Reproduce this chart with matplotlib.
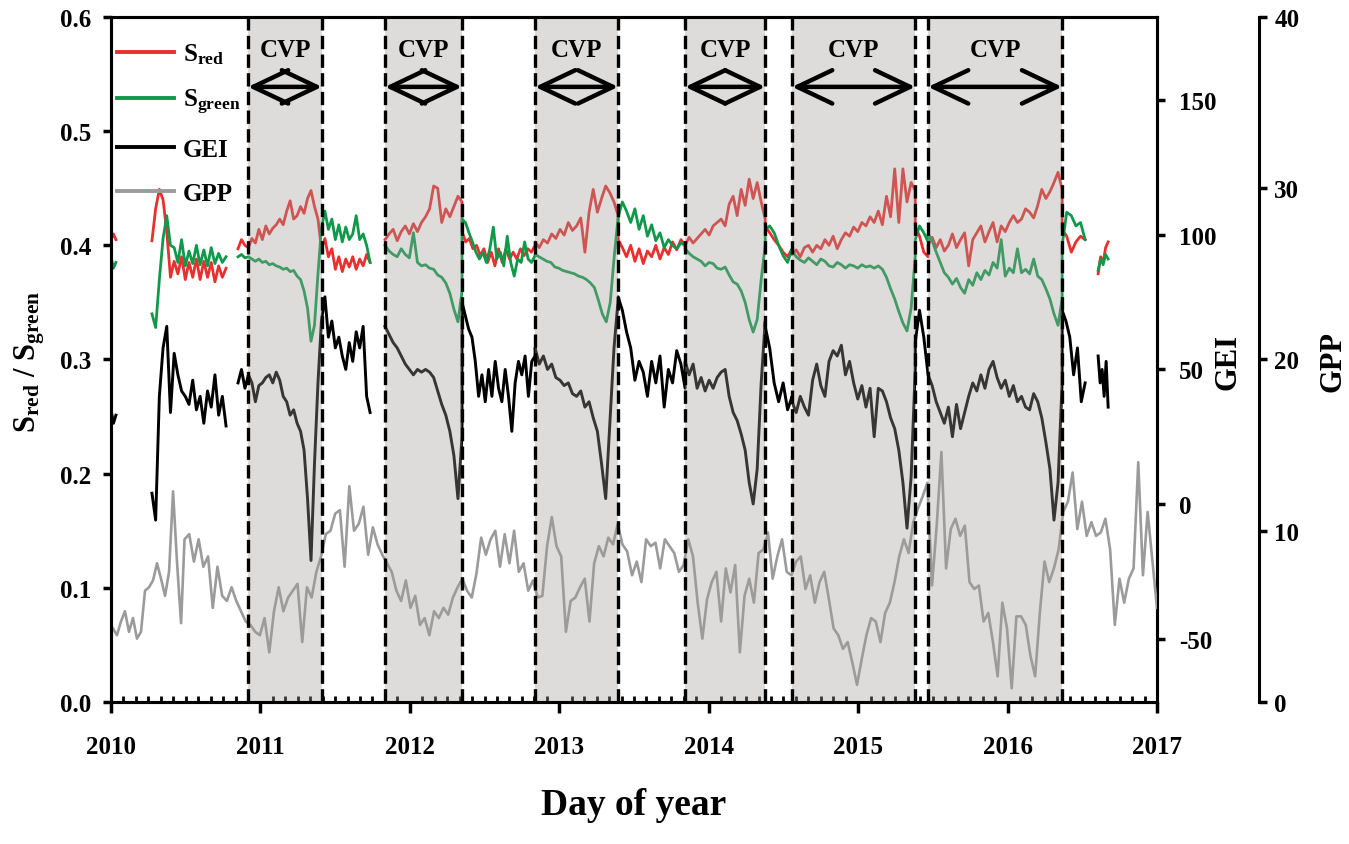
import matplotlib
matplotlib.use('Agg')
import matplotlib.pyplot as plt
import matplotlib.transforms as mtransforms
import numpy as np
from matplotlib.ticker import MultipleLocator, FormatStrFormatter, FixedLocator

plt.rcParams['font.family'] = ['Liberation Serif', 'DejaVu Serif']
plt.rcParams['font.weight'] = 'bold'
plt.rcParams['mathtext.fontset'] = 'custom'
plt.rcParams['mathtext.rm'] = 'Liberation Serif:bold'
plt.rcParams['mathtext.it'] = 'Liberation Serif:bold'
plt.rcParams['mathtext.bf'] = 'Liberation Serif:bold'
plt.rcParams['axes.unicode_minus'] = False

years = [2010, 2011, 2012, 2013, 2014, 2015, 2016, 2017]
cvp_start = [2010.917, 2011.834, 2012.838, 2013.842, 2014.558, 2015.468]
cvp_end = [2011.412, 2012.349, 2013.394, 2014.378, 2015.382, 2016.365]

# each run = list of pieces (first year, last year, values); gaps between runs
s_red = [
    [(2010.000, 2010.033, [0.405, 0.41, 0.405])],
    [(2010.274, 2010.770, [0.404, 0.432, 0.449, 0.44, 0.412, 0.372, 0.386, 0.375, 0.39, 0.37, 0.385,
                           0.372, 0.388, 0.37, 0.386, 0.372, 0.385, 0.368, 0.382, 0.372, 0.38])],
    [(2010.850, 2011.734, [0.397, 0.405, 0.40, 0.398, 0.406, 0.402, 0.414, 0.405, 0.417, 0.41, 0.415,
                           0.418, 0.423, 0.418, 0.43, 0.439, 0.423, 0.426, 0.434, 0.428, 0.441, 0.448,
                           0.434, 0.423, 0.397, 0.406, 0.39, 0.397, 0.379, 0.39, 0.377, 0.388, 0.381,
                           0.39, 0.379, 0.388, 0.382, 0.392, 0.385])],
    [(2011.834, 2012.349, [0.405, 0.41, 0.414, 0.404, 0.412, 0.417, 0.41, 0.419, 0.412, 0.42, 0.425,
                           0.432, 0.452, 0.45, 0.42, 0.432, 0.425, 0.434, 0.443, 0.438]),
     (2012.349, 2012.838, [0.412, 0.403, 0.406, 0.397, 0.40, 0.391, 0.397, 0.385, 0.394, 0.382, 0.397,
                           0.385, 0.397, 0.388, 0.394, 0.388, 0.397, 0.391, 0.397, 0.394, 0.40]),
     (2012.838, 2013.394, [0.403, 0.398, 0.405, 0.402, 0.41, 0.406, 0.414, 0.409, 0.42, 0.413, 0.417,
                           0.424, 0.394, 0.429, 0.449, 0.429, 0.441, 0.452, 0.446, 0.438, 0.426]),
     (2013.394, 2013.842, [0.405, 0.398, 0.39, 0.40, 0.386, 0.397, 0.384, 0.395, 0.39, 0.40, 0.388,
                           0.398, 0.392, 0.403, 0.396, 0.405, 0.40]),
     (2013.842, 2014.378, [0.40, 0.407, 0.402, 0.406, 0.41, 0.414, 0.409, 0.417, 0.42, 0.423, 0.417,
                           0.436, 0.443, 0.426, 0.449, 0.435, 0.458, 0.441, 0.455, 0.438, 0.423]),
     (2014.378, 2014.558, [0.417, 0.411, 0.405, 0.40, 0.394, 0.39, 0.397]),
     (2014.558, 2015.382, [0.392, 0.396, 0.39, 0.398, 0.40, 0.394, 0.40, 0.397, 0.405, 0.40, 0.408,
                           0.397, 0.405, 0.411, 0.408, 0.416, 0.412, 0.42, 0.417, 0.425, 0.42, 0.43,
                           0.418, 0.443, 0.425, 0.467, 0.42, 0.467, 0.438, 0.455, 0.448]),
     (2015.382, 2015.468, [0.417, 0.408, 0.394, 0.39]),
     (2015.468, 2016.365, [0.40, 0.407, 0.398, 0.405, 0.395, 0.40, 0.41, 0.398, 0.405, 0.411, 0.382,
                           0.405, 0.411, 0.417, 0.403, 0.412, 0.42, 0.403, 0.417, 0.412, 0.42, 0.426,
                           0.42, 0.423, 0.432, 0.429, 0.424, 0.435, 0.449, 0.441, 0.447, 0.455, 0.464,
                           0.449]),
     (2016.365, 2016.519, [0.414, 0.408, 0.394, 0.403, 0.408, 0.405])],
    [(2016.606, 2016.673, [0.375, 0.39, 0.385, 0.398, 0.403])],
]

s_green = [
    [(2010.000, 2010.033, [0.39, 0.38, 0.385])],
    [(2010.274, 2010.770, [0.34, 0.328, 0.37, 0.406, 0.426, 0.40, 0.398, 0.385, 0.405, 0.382, 0.395,
                           0.384, 0.40, 0.383, 0.396, 0.382, 0.398, 0.384, 0.393, 0.385, 0.39])],
    [(2010.850, 2011.734, [0.39, 0.392, 0.389, 0.39, 0.388, 0.386, 0.388, 0.385, 0.386, 0.383, 0.384,
                           0.382, 0.381, 0.379, 0.38, 0.377, 0.378, 0.373, 0.37, 0.36, 0.345, 0.316,
                           0.33, 0.375, 0.415, 0.43, 0.414, 0.423, 0.405, 0.418, 0.403, 0.416, 0.405,
                           0.41, 0.426, 0.405, 0.41, 0.40, 0.385])],
    [(2011.834, 2012.349, [0.40, 0.395, 0.392, 0.39, 0.397, 0.392, 0.389, 0.411, 0.385, 0.382, 0.383,
                           0.38, 0.379, 0.374, 0.372, 0.367, 0.358, 0.344, 0.333, 0.36]),
     (2012.349, 2012.838, [0.423, 0.42, 0.411, 0.403, 0.394, 0.388, 0.394, 0.385, 0.397, 0.416, 0.388,
                           0.394, 0.382, 0.408, 0.385, 0.373, 0.388, 0.385, 0.403, 0.388, 0.385, 0.391]),
     (2012.838, 2013.394, [0.392, 0.39, 0.388, 0.386, 0.385, 0.381, 0.38, 0.378, 0.377, 0.376, 0.375,
                           0.373, 0.372, 0.37, 0.367, 0.363, 0.352, 0.34, 0.333, 0.35, 0.39, 0.425]),
     (2013.394, 2013.842, [0.425, 0.438, 0.43, 0.42, 0.432, 0.414, 0.426, 0.408, 0.418, 0.404, 0.411,
                           0.398, 0.405, 0.40, 0.397, 0.402, 0.40]),
     (2013.842, 2014.378, [0.397, 0.393, 0.39, 0.388, 0.386, 0.382, 0.385, 0.384, 0.38, 0.379, 0.381,
                           0.374, 0.368, 0.366, 0.36, 0.35, 0.335, 0.324, 0.335, 0.37, 0.40]),
     (2014.378, 2014.558, [0.414, 0.417, 0.411, 0.40, 0.391, 0.385, 0.397]),
     (2014.558, 2015.382, [0.395, 0.39, 0.387, 0.385, 0.389, 0.386, 0.383, 0.388, 0.386, 0.382, 0.381,
                           0.385, 0.383, 0.38, 0.383, 0.382, 0.38, 0.383, 0.381, 0.382, 0.38, 0.382,
                           0.379, 0.372, 0.362, 0.353, 0.342, 0.332, 0.325, 0.345, 0.39]),
     (2015.382, 2015.468, [0.405, 0.417, 0.411, 0.403]),
     (2015.468, 2016.365, [0.41, 0.404, 0.394, 0.385, 0.376, 0.372, 0.366, 0.371, 0.363, 0.358, 0.37,
                           0.365, 0.376, 0.37, 0.378, 0.374, 0.385, 0.38, 0.405, 0.373, 0.38, 0.376,
                           0.397, 0.376, 0.379, 0.375, 0.388, 0.373, 0.37, 0.362, 0.353, 0.34, 0.33,
                           0.353]),
     (2016.365, 2016.519, [0.40, 0.429, 0.426, 0.417, 0.42, 0.405])],
    [(2016.606, 2016.673, [0.378, 0.388, 0.383, 0.392, 0.388])],
]

gei = [
    [(2010.000, 2010.033, [35, 30, 33])],
    [(2010.274, 2010.770, [4, -6, 40, 58, 66, 34, 56, 48, 42, 40, 37, 46, 35, 40, 30, 42, 36, 48, 33,
                           40, 29])],
    [(2010.850, 2011.734, [45, 50, 43, 48, 45, 38, 44, 45, 47, 48, 45, 49, 46, 40, 38, 33, 35, 30, 27,
                           20, 2, -21, 15, 45, 68, 77, 62, 68, 58, 62, 55, 50, 60, 53, 64, 58, 66,
                           40, 34])],
    [(2011.834, 2012.349, [66, 63, 60, 58, 55, 52, 50, 48, 50, 49, 50, 49, 47, 42, 37, 33, 27, 18, 2,
                           25]),
     (2012.349, 2012.838, [75, 70, 65, 62, 53, 40, 48, 38, 50, 40, 53, 43, 38, 50, 40, 27, 45, 53, 48,
                           55, 40, 53, 55]),
     (2012.838, 2013.394, [58, 52, 55, 50, 52, 47, 46, 44, 45, 41, 40, 42, 36, 38, 32, 27, 15, 2, 30,
                           58, 76]),
     (2013.394, 2013.842, [77, 72, 64, 58, 46, 53, 49, 40, 53, 45, 55, 36, 50, 45, 57, 52, 43]),
     (2013.842, 2014.378, [53, 48, 52, 43, 47, 42, 46, 43, 47, 49, 50, 40, 34, 31, 26, 20, 8, 0, 13,
                           45, 68]),
     (2014.378, 2014.558, [66, 58, 45, 38, 45, 35, 40]),
     (2014.558, 2015.382, [38, 34, 40, 36, 33, 46, 52, 44, 40, 53, 57, 55, 59, 48, 53, 45, 39, 44, 36,
                           43, 25, 43, 42, 38, 32, 28, 20, 8, -9, 10, 50]),
     (2015.382, 2015.468, [60, 72, 62, 48]),
     (2015.468, 2016.365, [48, 44, 38, 34, 30, 36, 25, 37, 28, 34, 40, 45, 42, 48, 43, 50, 53, 47, 43,
                           46, 40, 44, 38, 40, 36, 35, 41, 38, 32, 23, 13, -6, 8, 45]),
     (2016.365, 2016.519, [72, 68, 62, 48, 58, 38, 45])],
    [(2016.606, 2016.673, [55, 45, 50, 40, 53, 36])],
]

gpp = [
    [(2010.013, 2010.469, [4.3, 3.9, 4.7, 5.3, 4.1, 4.9, 3.7, 4.1, 6.5, 6.7, 7.1, 8.1, 7.2, 6.2, 7.6,
                           12.3, 8.1, 4.6]),
     (2010.492, 2013.454, [9.5, 9.8, 8.2, 9.5, 7.9, 8.5, 5.5, 7.9, 6.2, 5.9, 6.7, 5.9, 5.3, 4.7, 4.5,
                           4.1, 3.9, 4.9, 2.9, 5.3, 6.7, 5.3, 6.1, 6.5, 6.9, 3.5, 6.7, 6.1, 7.6, 8.5,
                           9.8, 10.0, 11.0, 11.2, 7.9, 12.6, 10.0, 10.4, 11.4, 8.6, 10.2, 9.2, 8.6,
                           8.1, 7.6, 6.5, 5.9, 7.1, 5.5, 6.2, 4.5, 4.9, 3.9, 5.3, 4.9, 5.5, 5.1, 6.1,
                           6.7, 7.2, 6.5, 6.1, 7.5, 9.6, 8.6, 9.5, 10.0, 7.9, 9.8, 8.1, 10.0, 7.6,
                           8.1, 6.5, 7.1, 6.1, 6.2, 9.1, 10.8, 9.1, 8.5, 4.1, 5.9, 6.1, 6.7, 7.2,
                           4.7, 8.1, 9.1, 8.5, 9.6, 9.2, 10.4, 9.2, 8.8]),
     (2013.487, 2017.000, [7.4, 8.2, 7.0, 9.5, 9.1, 9.3, 7.8, 9.5, 9.1, 8.7, 7.6, 8.0, 9.5, 8.5, 5.8,
                           3.7, 6.0, 7.0, 7.6, 4.7, 7.8, 6.4, 8.0, 2.9, 6.2, 7.2, 5.8, 8.7, 8.9, 9.9,
                           7.2, 8.5, 9.5, 7.6, 7.4, 8.2, 8.5, 6.6, 7.4, 5.8, 7.0, 7.6, 6.0, 4.3, 3.9,
                           3.1, 3.5, 2.3, 1.0, 2.5, 3.9, 4.9, 4.7, 3.5, 5.2, 5.8, 7.0, 8.5, 9.5, 8.7,
                           10.5, 11.3, 12.0, 12.8, 6.8, 10.3, 14.6, 7.8, 10.1, 10.7, 9.7, 10.3, 7.0,
                           6.6, 6.8, 4.7, 5.2, 3.5, 1.5, 5.8, 4.3, 0.8, 5.0, 5.0, 4.5, 2.7, 1.5, 5.2,
                           8.2, 7.0, 7.8, 8.9, 11.1, 11.7, 13.4, 10.1, 11.7, 9.7, 10.5, 9.7, 9.9,
                           10.7, 8.9, 4.5, 7.2, 5.8, 7.2, 7.8, 14.0, 7.4, 11.1, 8.3, 5.5])],
]


def build(runs):
    """Join the pieces of each run, NaN between runs"""
    xs, ys = [], []
    for run in runs:
        for x0, x1, vals in run:
            xs.extend(np.linspace(x0, x1, len(vals)))
            ys.extend(vals)
        xs.append(np.nan)
        ys.append(np.nan)
    return np.array(xs), np.array(ys)


fig = plt.figure(figsize=(13.49, 8.45), dpi=100)
ax = fig.add_axes([0.08228, 0.16805, 0.77539, 0.81065])
ax2 = ax.twinx()
ax3 = ax.twinx()

x, y = build(s_red)
l_red, = ax.plot(x, y, color='#e8302e', lw=2.0, label='S$_{\\rm red}$')
x, y = build(s_green)
l_green, = ax.plot(x, y, color='#10994a', lw=2.0, label='S$_{\\rm green}$')
x, y = build(gei)
l_gei, = ax2.plot(x, y, color='black', lw=2.1, label='GEI')
x, y = build(gpp)
l_gpp, = ax3.plot(x, y, color='#9b9b9b', lw=1.9, label='GPP', zorder=0.5)

ax.set_xlim(2010, 2017)
ax.set_ylim(0, 0.6)
ax2.set_ylim(-73.6, 181)
ax3.set_ylim(0, 40)

# CVP shading over the lines, dashed edges, labels and arrows
trans = mtransforms.blended_transform_factory(ax3.transData, ax3.transAxes)
for s, e in zip(cvp_start, cvp_end):
    ax3.axvspan(s, e, facecolor='#a09c98', alpha=0.35, lw=0, zorder=1)
    for xv in (s, e):
        ax3.axvline(xv, color='black', lw=2.4, ls=(0, (4, 1.6)), zorder=3)
    ax3.text((s + e) / 2, 0.953, 'CVP', transform=trans, ha='center', va='center',
             fontsize=18, zorder=4)
    ax3.annotate('', xy=(s, 0.898), xytext=(e, 0.898), xycoords=trans, textcoords=trans,
                 arrowprops=dict(arrowstyle='<->,head_length=0.42,head_width=0.2',
                                 mutation_scale=60, lw=3.2, color='black',
                                 shrinkA=0, shrinkB=0), zorder=4)

# axes styling
for a in (ax, ax2, ax3):
    for sp in a.spines.values():
        sp.set_linewidth(2.2)
ax2.spines['left'].set_visible(False)
ax2.spines['bottom'].set_visible(False)
ax2.spines['top'].set_visible(False)
ax3.spines['right'].set_position(('axes', 1.0975))

ax.xaxis.set_major_locator(FixedLocator(years))
ax.xaxis.set_minor_locator(MultipleLocator(1 / 12))
ax.xaxis.set_major_formatter(FormatStrFormatter('%d'))
ax.tick_params(axis='x', which='major', direction='out', length=8, width=2.5, pad=16, labelsize=18)
ax.tick_params(axis='x', which='minor', direction='in', length=4, width=2)
ax.yaxis.set_major_locator(MultipleLocator(0.1))
ax.yaxis.set_major_formatter(FormatStrFormatter('%.1f'))
ax.tick_params(axis='y', direction='out', length=6, width=2.5, pad=8, labelsize=18)

ax2.yaxis.set_major_locator(FixedLocator([-50, 0, 50, 100, 150]))
ax2.tick_params(axis='y', direction='out', length=6, width=2.5, pad=10, labelsize=18)
ax3.yaxis.set_major_locator(MultipleLocator(10))
ax3.tick_params(axis='y', direction='out', length=6, width=2.5, pad=5, labelsize=18)

leg = ax3.legend(handles=[l_red, l_green, l_gei, l_gpp], loc='upper left',
                 bbox_to_anchor=(-0.011, 0.99), frameon=False, fontsize=18,
                 handlelength=2.3, handletextpad=0.35, labelspacing=0.85, borderaxespad=0.3)
for ln in leg.get_lines():
    ln.set_linewidth(2.8)

fig.text(0.0222, 0.5716, 'S$_{\\rm red}$ / S$_{\\rm green}$', rotation=90, fontsize=22,
         ha='center', va='center')
fig.text(0.910, 0.5716, 'GEI', rotation=90, fontsize=22, ha='center', va='center')
fig.text(0.988, 0.5716, 'GPP', rotation=90, fontsize=22, ha='center', va='center')
fig.text(0.470, 0.0473, 'Day of year', fontsize=27, ha='center', va='center')

fig.savefig('out.png', dpi=100)
